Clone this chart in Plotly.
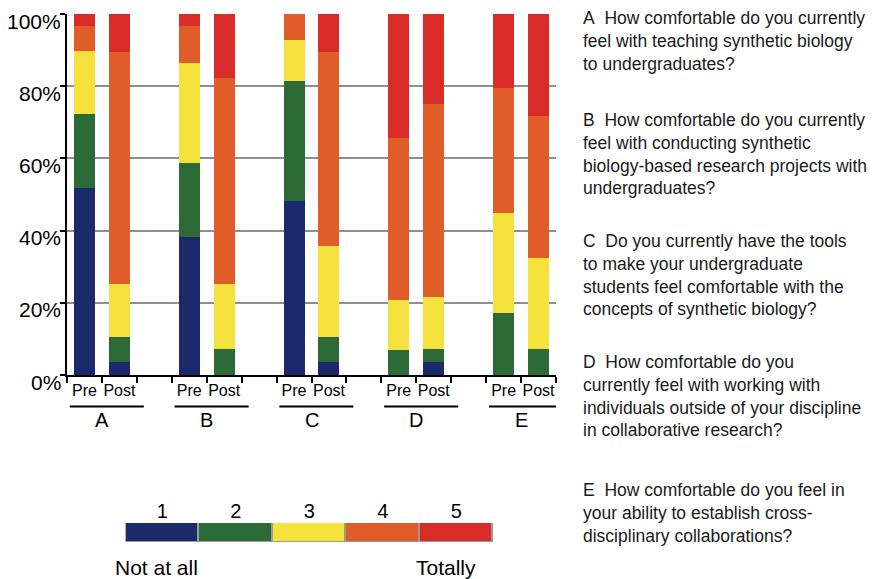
import plotly.graph_objects as go

# ---- data ----
groups = ["A", "B", "C", "D", "E"]
phases = ["Pre", "Post"]
levels = ["1", "2", "3", "4", "5"]
colors = ["#1a2a6a", "#2c6b38", "#f4e13c", "#e05c28", "#d92b27"]

# percentages, order: A Pre, A Post, B Pre, B Post, C Pre, C Post, D Pre, D Post, E Pre, E Post
level1 = [51.8, 3.7, 38.1, 0.0, 48.2, 3.5, 0.0, 3.5, 0.0, 0.0]
level2 = [20.6, 6.9, 20.6, 7.1, 33.3, 7.1, 6.9, 3.6, 17.1, 7.1]
level3 = [17.4, 14.5, 27.7, 18.0, 11.2, 25.2, 13.9, 14.4, 27.9, 25.2]
level4 = [6.9, 64.4, 10.3, 57.2, 7.3, 53.7, 44.9, 53.7, 34.5, 39.4]
level5 = [3.3, 10.5, 3.3, 17.7, 0.0, 10.5, 34.3, 24.8, 20.5, 28.3]
series = [level1, level2, level3, level4, level5]

y_ticks = [0, 20, 40, 60, 80, 100]
y_labels = ["0%", "20%", "40%", "60%", "80%", "100%"]

questions = [
    "A\u00a0 How comfortable do you currently<br>feel with teaching synthetic biology<br>to undergraduates?",
    "B\u00a0 How comfortable do you currently<br>feel with conducting synthetic<br>biology-based research projects with<br>undergraduates?",
    "C\u00a0 Do you currently have the tools<br>to make your undergraduate<br>students feel comfortable with the<br>concepts of synthetic biology?",
    "D\u00a0 How comfortable do you<br>currently feel with working with<br>individuals outside of your discipline<br>in collaborative research?",
    "E\u00a0 How comfortable do you feel in<br>your ability to establish cross-<br>disciplinary collaborations?",
]
scale_low = "Not at all"
scale_high = "Totally"

# ---- layout helpers ----
OFF = 8  # page body margin in the browser
W, H = 875 - OFF, 579 - OFF
ML, MR, MT, MB = 67 - OFF, (875 - OFF) - (556 - OFF), 14 - OFF, 10
PH = H - MT - MB
PW = W - ML - MR


def py(pix):  # page pixel y -> paper y
    return (H - MB - (pix - OFF)) / PH


def px(pix):  # page pixel x -> paper x
    return ((pix - OFF) - ML) / PW


FONT = "Liberation Sans, Arial, sans-serif"

xpos = []
xlab = []
for gi, g in enumerate(groups):
    for pi, p in enumerate(phases):
        xpos.append(3 * gi + pi + 0.5)
        xlab.append(p)

fig = go.Figure()
for lv, col, vals in zip(levels, colors, series):
    fig.add_trace(go.Bar(
        x=xpos, y=vals, width=0.6, name=lv,
        marker=dict(color=col, line=dict(width=0)),
        showlegend=False, xaxis="x", yaxis="y",
    ))

# legend strip as its own small axes
fig.add_trace(go.Bar(
    x=[int(l) for l in levels], y=[1] * len(levels), width=1,
    marker=dict(color=colors, line=dict(color="#9a9a9a", width=1.5)),
    showlegend=False, xaxis="x2", yaxis="y2", hoverinfo="skip",
))

annotations = []
shapes = []
for gi, g in enumerate(groups):
    start = 3 * gi
    shapes.append(dict(type="line", xref="x", yref="paper",
                       x0=start + 0.08, x1=start + 2.2, y0=py(406.5), y1=py(406.5),
                       line=dict(color="black", width=2)))
    annotations.append(dict(x=start + 1, y=py(420), xref="x", yref="paper",
                            text=g, showarrow=False, xanchor="center", yanchor="middle",
                            font=dict(size=20, color="black", family=FONT)))

# y tick labels (sit slightly below their gridlines, as in the original)
for v, lab in zip(y_ticks, y_labels):
    annotations.append(dict(x=0, y=v, xref="paper", yref="y", text=lab,
                            showarrow=False, xanchor="right", yanchor="middle",
                            xshift=-4.5, yshift=-7,
                            font=dict(size=21, color="black", family=FONT)))

q_tops = [6, 108, 229, 350, 478]
for q, t in zip(questions, q_tops):
    annotations.append(dict(x=px(581), y=py(t), xref="paper", yref="paper",
                            text=q, showarrow=False, xanchor="left", yanchor="top",
                            align="left",
                            font=dict(size=17.5, color="#1a1a1a", family=FONT)))

annotations.append(dict(x=px(113), y=py(567), xref="paper", yref="paper",
                        text=scale_low, showarrow=False, xanchor="left", yanchor="middle",
                        font=dict(size=21, color="black", family=FONT)))
annotations.append(dict(x=px(446), y=py(567), xref="paper", yref="paper",
                        text=scale_high, showarrow=False, xanchor="center", yanchor="middle",
                        font=dict(size=21, color="black", family=FONT)))

fig.update_layout(
    width=W, height=H,
    margin=dict(l=ML, r=MR, t=MT, b=MB, pad=0, autoexpand=False),
    paper_bgcolor="white", plot_bgcolor="white",
    barmode="stack", bargap=0,
    font=dict(family=FONT, color="black"),
    xaxis=dict(
        domain=[0, 1], range=[0, 14], anchor="y", automargin=False,
        tickmode="array", tickvals=xpos, ticktext=xlab,
        ticks="", tickfont=dict(size=16, family=FONT, color="black"),
        showline=True, linecolor="black", linewidth=2,
        showgrid=False, zeroline=False, fixedrange=True,
        minor=dict(tickmode="array", tickvals=list(range(15)), ticks="outside",
                   ticklen=6, tickwidth=2, tickcolor="black", showgrid=False),
    ),
    yaxis=dict(
        domain=[py(375), 1], range=[0, 100], anchor="x", automargin=False,
        tickmode="array", tickvals=y_ticks, showticklabels=False,
        ticks="outside", ticklen=5, tickwidth=2, tickcolor="black",
        showline=True, linecolor="black", linewidth=2,
        showgrid=True, gridcolor="#8f8f8f", gridwidth=1.5,
        zeroline=False, fixedrange=True,
    ),
    xaxis2=dict(
        domain=[px(125.7), px(493)], range=[0.5, 5.5], anchor="y2", side="top",
        automargin=False,
        tickmode="array", tickvals=[int(l) for l in levels], ticktext=levels,
        ticks="", tickfont=dict(size=20, family=FONT, color="black"),
        showline=False, showgrid=False, zeroline=False, fixedrange=True,
    ),
    yaxis2=dict(
        domain=[py(542), py(523)], range=[0, 1], anchor="x2", automargin=False,
        showticklabels=False, ticks="", showline=False, showgrid=False,
        zeroline=False, fixedrange=True,
    ),
    annotations=annotations,
    shapes=shapes,
)

fig.write_html("out.html")
